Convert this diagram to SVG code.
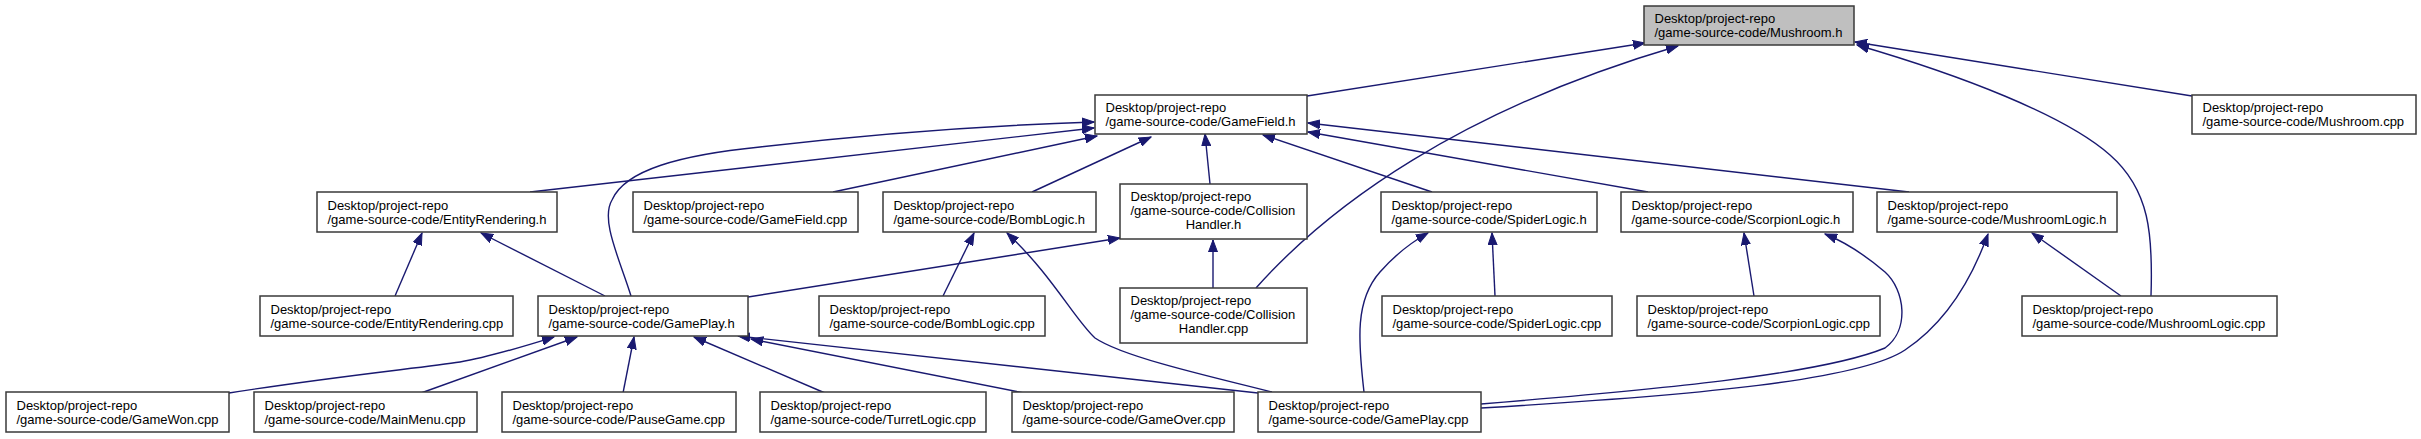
<svg xmlns="http://www.w3.org/2000/svg" width="2421" height="439" viewBox="0 0 2421 439">
<style>
.n rect{fill:#ffffff;stroke:#3a3a3a;stroke-width:1.5}
.n.g rect{fill:#bfbfbf}
.n text{font-family:"Liberation Sans",Arial,sans-serif;font-size:13px;fill:#000}
.n text.c{text-anchor:middle}
#edges path{fill:none;stroke:#191970;stroke-width:1.4;marker-end:url(#a)}
</style>
<defs>
<marker id="a" markerWidth="13" markerHeight="10" refX="12" refY="5" orient="auto" markerUnits="userSpaceOnUse">
<path d="M0,0.5 L12,5 L0,9.5 z" fill="#191970" stroke="#191970" stroke-width="1"/>
</marker>
</defs>
<rect width="2421" height="439" fill="#ffffff"/>
<g id="edges">
<path d="M1307,96 L1645,43"/>
<path d="M1256,288 C1330,205 1460,110 1678,46"/>
<path d="M2151,296 C2153,235 2150,190 2110,155 C2065,115 1960,75 1857,45"/>
<path d="M2192,96 L1855,42"/>
<path d="M530,192 L1094,128"/>
<path d="M631,296 C620,260 600,220 612,200 C625,170 680,155 760,147 C880,133 1000,125 1094,122"/>
<path d="M833,192 L1097,136"/>
<path d="M1032,192 L1151,137"/>
<path d="M1210,184 L1205,134"/>
<path d="M1432,192 L1263,135"/>
<path d="M1648,192 L1308,132"/>
<path d="M1909,192 L1308,123"/>
<path d="M395,296 L422,233"/>
<path d="M605,296 L481,233"/>
<path d="M748,297 L1120,238"/>
<path d="M943,296 L974,233"/>
<path d="M1272,392 C1190,372 1120,355 1095,338 C1075,320 1052,275 1007,233"/>
<path d="M1213,288 L1213,240"/>
<path d="M1364,392 C1358,340 1355,300 1380,272 C1395,255 1410,243 1428,233"/>
<path d="M1495,296 L1492,233"/>
<path d="M1754,296 L1744,233"/>
<path d="M1481,404 C1650,390 1820,375 1885,348 C1910,330 1905,290 1885,272 C1865,255 1845,242 1825,234"/>
<path d="M1481,408 C1700,395 1860,380 1905,350 C1950,320 1975,270 1988,234"/>
<path d="M2121,296 L2032,233"/>
<path d="M229,393 C330,377 420,368 460,362 C490,357 525,346 554,337"/>
<path d="M421,393 L577,337"/>
<path d="M623,393 L634,337"/>
<path d="M825,393 L694,337"/>
<path d="M1024,393 L751,339"/>
<path d="M1258,393 L738,336"/>
</g>
<g id="mushroom_h" class="n g"><rect x="1644" y="6" width="210" height="39"/><text x="1654.5" y="23">Desktop/project-repo</text><text x="1654.5" y="37">/game-source-code/Mushroom.h</text></g>
<g id="gamefield_h" class="n"><rect x="1095" y="95" width="212" height="39"/><text x="1105.5" y="112">Desktop/project-repo</text><text x="1105.5" y="126">/game-source-code/GameField.h</text></g>
<g id="mushroom_cpp" class="n"><rect x="2192" y="95" width="224" height="39"/><text x="2202.5" y="112">Desktop/project-repo</text><text x="2202.5" y="126">/game-source-code/Mushroom.cpp</text></g>
<g id="entityrendering_h" class="n"><rect x="317" y="192" width="240" height="40"/><text x="327.5" y="209.5">Desktop/project-repo</text><text x="327.5" y="223.5">/game-source-code/EntityRendering.h</text></g>
<g id="gamefield_cpp" class="n"><rect x="633" y="192" width="225" height="40"/><text x="643.5" y="209.5">Desktop/project-repo</text><text x="643.5" y="223.5">/game-source-code/GameField.cpp</text></g>
<g id="bomblogic_h" class="n"><rect x="883" y="192" width="213" height="40"/><text x="893.5" y="209.5">Desktop/project-repo</text><text x="893.5" y="223.5">/game-source-code/BombLogic.h</text></g>
<g id="collisionhandler_h" class="n"><rect x="1120" y="184" width="187" height="55"/><text x="1130.5" y="201">Desktop/project-repo</text><text x="1130.5" y="215">/game-source-code/Collision</text><text class="c" x="1213.5" y="229">Handler.h</text></g>
<g id="spiderlogic_h" class="n"><rect x="1381" y="192" width="216" height="40"/><text x="1391.5" y="209.5">Desktop/project-repo</text><text x="1391.5" y="223.5">/game-source-code/SpiderLogic.h</text></g>
<g id="scorpionlogic_h" class="n"><rect x="1621" y="192" width="232" height="40"/><text x="1631.5" y="209.5">Desktop/project-repo</text><text x="1631.5" y="223.5">/game-source-code/ScorpionLogic.h</text></g>
<g id="mushroomlogic_h" class="n"><rect x="1877" y="192" width="240" height="40"/><text x="1887.5" y="209.5">Desktop/project-repo</text><text x="1887.5" y="223.5">/game-source-code/MushroomLogic.h</text></g>
<g id="entityrendering_cpp" class="n"><rect x="260" y="296" width="253" height="40"/><text x="270.5" y="313.5">Desktop/project-repo</text><text x="270.5" y="327.5">/game-source-code/EntityRendering.cpp</text></g>
<g id="gameplay_h" class="n"><rect x="538" y="296" width="210" height="40"/><text x="548.5" y="313.5">Desktop/project-repo</text><text x="548.5" y="327.5">/game-source-code/GamePlay.h</text></g>
<g id="bomblogic_cpp" class="n"><rect x="819" y="296" width="226" height="40"/><text x="829.5" y="313.5">Desktop/project-repo</text><text x="829.5" y="327.5">/game-source-code/BombLogic.cpp</text></g>
<g id="collisionhandler_cpp" class="n"><rect x="1120" y="288" width="187" height="55"/><text x="1130.5" y="305">Desktop/project-repo</text><text x="1130.5" y="319">/game-source-code/Collision</text><text class="c" x="1213.5" y="333">Handler.cpp</text></g>
<g id="spiderlogic_cpp" class="n"><rect x="1382" y="296" width="230" height="40"/><text x="1392.5" y="313.5">Desktop/project-repo</text><text x="1392.5" y="327.5">/game-source-code/SpiderLogic.cpp</text></g>
<g id="scorpionlogic_cpp" class="n"><rect x="1637" y="296" width="243" height="40"/><text x="1647.5" y="313.5">Desktop/project-repo</text><text x="1647.5" y="327.5">/game-source-code/ScorpionLogic.cpp</text></g>
<g id="mushroomlogic_cpp" class="n"><rect x="2022" y="296" width="255" height="40"/><text x="2032.5" y="313.5">Desktop/project-repo</text><text x="2032.5" y="327.5">/game-source-code/MushroomLogic.cpp</text></g>
<g id="gamewon_cpp" class="n"><rect x="6" y="392" width="223" height="40"/><text x="16.5" y="409.5">Desktop/project-repo</text><text x="16.5" y="423.5">/game-source-code/GameWon.cpp</text></g>
<g id="mainmenu_cpp" class="n"><rect x="254" y="392" width="223" height="40"/><text x="264.5" y="409.5">Desktop/project-repo</text><text x="264.5" y="423.5">/game-source-code/MainMenu.cpp</text></g>
<g id="pausegame_cpp" class="n"><rect x="502" y="392" width="234" height="40"/><text x="512.5" y="409.5">Desktop/project-repo</text><text x="512.5" y="423.5">/game-source-code/PauseGame.cpp</text></g>
<g id="turretlogic_cpp" class="n"><rect x="760" y="392" width="226" height="40"/><text x="770.5" y="409.5">Desktop/project-repo</text><text x="770.5" y="423.5">/game-source-code/TurretLogic.cpp</text></g>
<g id="gameover_cpp" class="n"><rect x="1012" y="392" width="222" height="40"/><text x="1022.5" y="409.5">Desktop/project-repo</text><text x="1022.5" y="423.5">/game-source-code/GameOver.cpp</text></g>
<g id="gameplay_cpp" class="n"><rect x="1258" y="392" width="223" height="40"/><text x="1268.5" y="409.5">Desktop/project-repo</text><text x="1268.5" y="423.5">/game-source-code/GamePlay.cpp</text></g>
</svg>
